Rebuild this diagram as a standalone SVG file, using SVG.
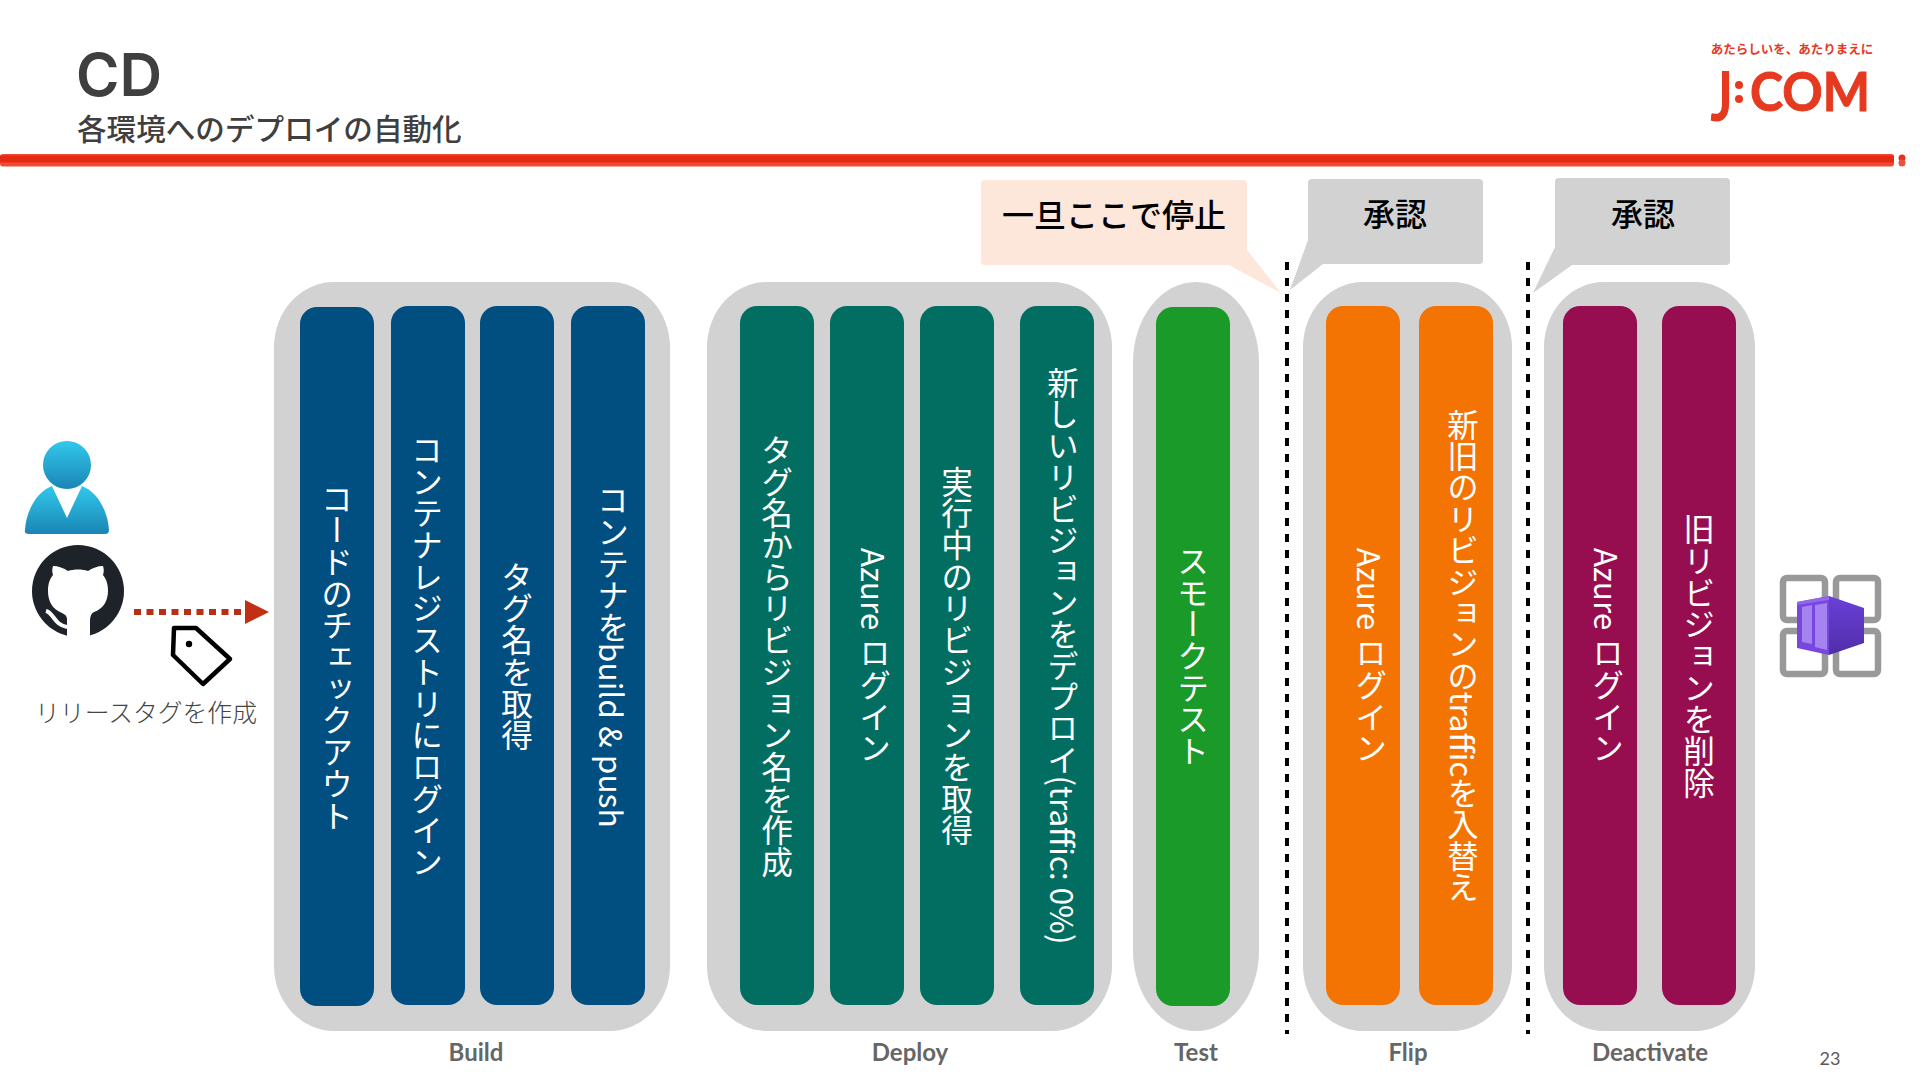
<svg xmlns="http://www.w3.org/2000/svg" width="1920" height="1080" viewBox="0 0 1920 1080">
<defs>
<style>
.grp{fill:#d2d2d2}
.bar{stroke:none}
.v{writing-mode:vertical-rl;text-anchor:middle;font-family:"Noto Sans CJK JP","Liberation Sans",sans-serif;font-size:31.7px;fill:#fff}
.lab{font-family:"Lato","Noto Sans",sans-serif;font-size:24px;fill:#666;text-anchor:middle;font-weight:700}
.cj{font-family:"Noto Sans CJK JP",sans-serif}
</style>
<linearGradient id="ub" x1="0" y1="0" x2="0" y2="1"><stop offset="0" stop-color="#32c8ec"/><stop offset="1" stop-color="#1a85b5"/></linearGradient>
<linearGradient id="cb" x1="0" y1="0" x2="0" y2="1"><stop offset="0" stop-color="#6a40d8"/><stop offset="1" stop-color="#4f2ea8"/></linearGradient>
</defs>
<rect width="1920" height="1080" fill="#fff"/>
<text x="76" y="96" font-family="Inter,Liberation Sans,sans-serif" font-size="59" font-weight="600" fill="#3f3f3f">CD</text>
<text x="77" y="140" class="cj" font-size="29.6" font-weight="500" fill="#3f3f3f">各環境へのデプロイの自動化</text>
<g id="rule">
<rect x="0" y="154" width="1894" height="12.5" rx="3" fill="#ee4a36"/>
<rect x="0" y="155.5" width="1894" height="7" fill="#e62a12"/>
<circle cx="1902" cy="158" r="3.5" fill="#e5321e"/><circle cx="1902" cy="163" r="3.5" fill="#ee5040"/>
</g>
<g id="logo" fill="#e53a1f">
<text x="1792" y="54" text-anchor="middle" class="cj" font-size="12.5" font-weight="700">あたらしいを、あたりまえに</text>
<text transform="translate(1733 121) scale(1 1.29)" text-anchor="end" font-family="Lato,sans-serif" font-size="53" font-weight="700">J</text>
<circle cx="1739" cy="85" r="4"/><circle cx="1739" cy="99" r="4"/>
<text x="1750" y="111" font-family="Lato,sans-serif" font-size="53" font-weight="700" stroke="#e53a1f" stroke-width="1" textLength="120" lengthAdjust="spacingAndGlyphs">COM</text>
</g>
<g id="user"><circle cx="67" cy="465" r="24" fill="url(#ub)"/>
<path d="M52 486L67 518L82 486C98 492 108 512 109 530Q109 534 105 534H29Q24 534 25 530C26 512 36 492 52 486Z" fill="url(#ub)"/></g>
<g id="github"><circle cx="78" cy="591" r="46" fill="#1e2329"/>
<path d="M67 638V619Q67 615 62 613C52 609 48 601 48 591C48 583 50 579 53 575C52 572 52 569 53 566C58 566 64 568 68 571C74 569 82 569 88 571C92 568 98 566 103 566C104 569 104 572 103 575C106 579 108 583 108 591C108 601 103 609 94 612Q90 614 90 621V638Z" fill="#fff"/>
<path d="M46 611C54 613 54 625 67 627" fill="none" stroke="#fff" stroke-width="4"/></g>
<g id="connectors">
<path d="M134 612H244" stroke="#b72f17" stroke-width="6" stroke-dasharray="7 5.5" fill="none"/>
<path d="M245 600L269 612L245 624Z" fill="#c12f14"/>
</g>
<g id="tag"><path d="M174 628H196L230 659L203 684L173 655Z" fill="#fff" stroke="#000" stroke-width="4.5" stroke-linejoin="round"/><circle cx="189" cy="644" r="3.2" fill="#000"/></g>
<text x="146" y="722" text-anchor="middle" class="cj" font-size="24.8" font-weight="300" fill="#454545">リリースタグを作成</text>
<g id="build"><rect class="grp" x="274" y="282" width="396" height="749" rx="60" ry="65"/>
<rect class="bar" fill="#004f80" x="300" y="307" width="74" height="699" rx="17"/><text class="v" x="337" y="657">コードのチェックアウト</text>
<rect class="bar" fill="#004f80" x="391" y="306" width="74" height="699" rx="17"/><text class="v" x="427" y="656">コンテナレジストリにログイン</text>
<rect class="bar" fill="#004f80" x="480" y="306" width="74" height="699" rx="17"/><text class="v" x="517" y="656">タグ名を取得</text>
<rect class="bar" fill="#004f80" x="571" y="306" width="74" height="699" rx="17"/><text class="v" x="613" y="656">コンテナをbuild &amp; push</text>
</g>
<g id="deploy"><rect class="grp" x="707" y="282" width="405" height="749" rx="60" ry="65"/>
<rect class="bar" fill="#026e62" x="740" y="306" width="74" height="699" rx="17"/><text class="v" x="777" y="656">タグ名からリビジョン名を作成</text>
<rect class="bar" fill="#026e62" x="830" y="306" width="74" height="699" rx="17"/><text class="v" x="875" y="656">Azure ログイン</text>
<rect class="bar" fill="#026e62" x="920" y="306" width="74" height="699" rx="17"/><text class="v" x="957" y="656">実行中のリビジョンを取得</text>
<rect class="bar" fill="#026e62" x="1020" y="306" width="74" height="699" rx="17"/><text class="v" x="1063" y="656" style="font-size:31.4px">新しいリビジョンをデプロイ(traffic: 0%)</text>
</g>
<g id="test"><rect class="grp" x="1133" y="282" width="126" height="749" rx="63" ry="80"/>
<rect class="bar" fill="#1a9a28" x="1156" y="307" width="74" height="699" rx="17"/><text class="v" x="1193" y="656">スモークテスト</text></g>
<g id="flip"><rect class="grp" x="1303" y="282" width="209" height="749" rx="60" ry="65"/>
<rect class="bar" fill="#f37403" x="1326" y="306" width="74" height="699" rx="17"/><text class="v" x="1371" y="656">Azure ログイン</text>
<rect class="bar" fill="#f37403" x="1419" y="306" width="74" height="699" rx="17"/><text class="v" x="1463" y="656" style="font-size:31.4px">新旧のリビジョンのtrafficを入替え</text></g>
<g id="deactivate"><rect class="grp" x="1544" y="282" width="211" height="749" rx="60" ry="65"/>
<rect class="bar" fill="#970e50" x="1563" y="306" width="74" height="699" rx="17"/><text class="v" x="1608" y="656">Azure ログイン</text>
<rect class="bar" fill="#970e50" x="1662" y="306" width="74" height="699" rx="17"/><text class="v" x="1699" y="656">旧リビジョンを削除</text></g>
<g id="dividers" stroke="#000" stroke-width="4" stroke-dasharray="8 8" fill="none"><path d="M1287 262V1034"/><path d="M1528 262V1034"/></g>
<g id="callout-stop"><path d="M985 180H1243Q1247 180 1247 184V250L1281 293L1229 265H985Q981 265 981 261V184Q981 180 985 180Z" fill="#fde6da"/>
<text x="1114" y="227" text-anchor="middle" class="cj" font-size="32" font-weight="500" fill="#000">一旦ここで停止</text></g>
<g id="callout-a1"><path d="M1312 179H1479Q1483 179 1483 183V260Q1483 264 1479 264H1323L1290 290L1308 240V183Q1308 179 1312 179Z" fill="#d2d2d2"/>
<text x="1395" y="226" text-anchor="middle" class="cj" font-size="32" font-weight="500" fill="#000">承認</text></g>
<g id="callout-a2"><path d="M1559 178H1726Q1730 178 1730 182V261Q1730 265 1726 265H1572L1533 293L1555 247V182Q1555 178 1559 178Z" fill="#d2d2d2"/>
<text x="1643" y="226" text-anchor="middle" class="cj" font-size="32" font-weight="500" fill="#000">承認</text></g>
<text class="lab" x="476" y="1061">Build</text>
<text class="lab" x="910" y="1061">Deploy</text>
<text class="lab" x="1196" y="1061">Test</text>
<text class="lab" x="1408" y="1061">Flip</text>
<text class="lab" x="1650" y="1061">Deactivate</text>
<text x="1830" y="1065" text-anchor="middle" font-family="Lato,sans-serif" font-size="18" fill="#595959">23</text>
<g id="container-apps"><g fill="none" stroke="#999" stroke-width="6.5"><rect x="1783" y="578" width="42" height="42" rx="4"/><rect x="1836" y="578" width="42" height="42" rx="4"/><rect x="1783" y="631" width="42" height="43" rx="4"/><rect x="1836" y="631" width="42" height="43" rx="4"/></g>
<path d="M1797 602L1829 596V655L1797 648Z" fill="#7747e0"/>
<path d="M1829 596L1864 608V643L1829 655Z" fill="url(#cb)"/>
<path d="M1797 602L1829 596V600L1797 605Z" fill="#8f68ec"/>
<path d="M1802 607L1812 605V644L1802 642Z M1815 605L1827 603V650L1815 647Z" fill="#a584f2"/></g>
</svg>
